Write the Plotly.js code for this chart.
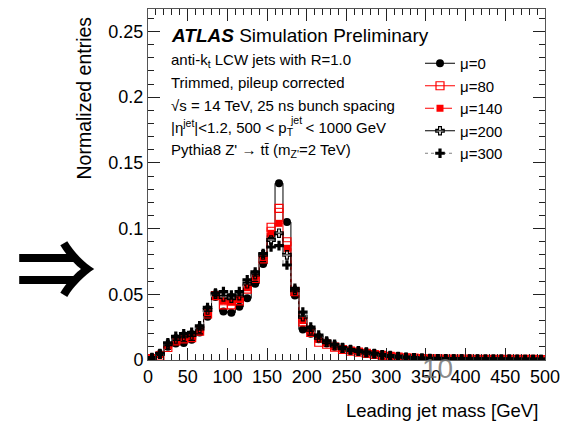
<!DOCTYPE html>
<html>
<head>
<meta charset="utf-8">
<script src="https://cdn.plot.ly/plotly-3.0.1.min.js"></script>
<style>
  html, body { margin: 0; padding: 0; background: #fff; }
  #chart { width: 562px; height: 421px; }
</style>
</head>
<body>
<div id="chart"></div>
<script>
// Leading jet mass bins: 10 GeV wide, centres in GeV
const massBins = [5, 15, 25, 35, 45, 55, 65, 75, 85, 95,
  105, 115, 125, 135, 145, 155, 165, 175, 185, 195,
  205, 215, 225, 235, 245, 255, 265, 275, 285, 295,
  305, 315, 325, 335, 345, 355, 365, 375, 385, 395,
  405, 415, 425, 435, 445, 455, 465, 475, 485, 495];

// Normalized entries per pileup condition
const mu0 = [0.0013, 0.0045, 0.0100, 0.0125, 0.0130, 0.0155, 0.0210, 0.0330, 0.0480, 0.0370,
  0.0360, 0.0405, 0.0470, 0.0580, 0.0730, 0.0950, 0.1345, 0.1050, 0.0490, 0.0233,
  0.0200, 0.0157, 0.0125, 0.0100, 0.0082, 0.0070, 0.0062, 0.0050, 0.0043, 0.0035,
  0.0028, 0.0022, 0.0017, 0.0014, 0.0010, 0.0009, 0.0008, 0.0007, 0.0007, 0.0006,
  0.0006, 0.0005, 0.0005, 0.0005, 0.0004, 0.0004, 0.0004, 0.0004, 0.0003, 0.0003];
const mu80 = [0.0010, 0.0030, 0.0095, 0.0145, 0.0160, 0.0170, 0.0220, 0.0350, 0.0490, 0.0420,
  0.0420, 0.0450, 0.0540, 0.0620, 0.0770, 0.1010, 0.1154, 0.0900, 0.0520, 0.0290,
  0.0210, 0.0135, 0.0120, 0.0098, 0.0080, 0.0068, 0.0060, 0.0050, 0.0042, 0.0035,
  0.0028, 0.0022, 0.0017, 0.0014, 0.0010, 0.0009, 0.0008, 0.0007, 0.0007, 0.0006,
  0.0006, 0.0005, 0.0005, 0.0005, 0.0004, 0.0004, 0.0004, 0.0004, 0.0004, 0.0003];
const mu140 = [0.0012, 0.0040, 0.0110, 0.0150, 0.0170, 0.0180, 0.0230, 0.0360, 0.0490, 0.0450,
  0.0440, 0.0460, 0.0550, 0.0630, 0.0780, 0.0964, 0.1040, 0.0850, 0.0520, 0.0300,
  0.0220, 0.0160, 0.0130, 0.0105, 0.0085, 0.0072, 0.0064, 0.0053, 0.0045, 0.0037,
  0.0030, 0.0024, 0.0018, 0.0015, 0.0011, 0.0010, 0.0009, 0.0008, 0.0007, 0.0007,
  0.0006, 0.0006, 0.0005, 0.0005, 0.0005, 0.0004, 0.0004, 0.0004, 0.0004, 0.0003];
const mu200 = [0.0015, 0.0045, 0.0120, 0.0160, 0.0180, 0.0190, 0.0240, 0.0380, 0.0500, 0.0480,
  0.0470, 0.0490, 0.0580, 0.0650, 0.0800, 0.0913, 0.0965, 0.0800, 0.0530, 0.0330,
  0.0230, 0.0170, 0.0135, 0.0110, 0.0090, 0.0076, 0.0067, 0.0056, 0.0047, 0.0038,
  0.0031, 0.0025, 0.0019, 0.0016, 0.0012, 0.0010, 0.0009, 0.0008, 0.0008, 0.0007,
  0.0006, 0.0006, 0.0006, 0.0005, 0.0005, 0.0005, 0.0004, 0.0004, 0.0004, 0.0004];
const mu300 = [0.0018, 0.0050, 0.0130, 0.0180, 0.0200, 0.0210, 0.0260, 0.0400, 0.0510, 0.0520,
  0.0495, 0.0520, 0.0610, 0.0670, 0.0810, 0.0860, 0.0870, 0.0723, 0.0545, 0.0365,
  0.0250, 0.0190, 0.0145, 0.0120, 0.0095, 0.0080, 0.0070, 0.0060, 0.0050, 0.0040,
  0.0033, 0.0027, 0.0021, 0.0017, 0.0013, 0.0011, 0.0010, 0.0009, 0.0008, 0.0008,
  0.0007, 0.0007, 0.0006, 0.0006, 0.0005, 0.0005, 0.0005, 0.0004, 0.0004, 0.0004];

const seriesNames = ['\u03bc=0', '\u03bc=80', '\u03bc=140', '\u03bc=200', '\u03bc=300'];
const xTickVals = [0, 50, 100, 150, 200, 250, 300, 350, 400, 450, 500];

const FONT = 'Liberation Sans, Arial, Helvetica, sans-serif';

// One histogram: step outline through the bin contents plus a marker per bin
function histTrace(name, y, lineColor, dash, symbol, markerColor, size, open) {
  return {
    type: 'scatter',
    mode: 'lines+markers',
    name: name,
    x: massBins,
    y: y,
    line: { shape: 'hvh', color: lineColor, width: 1, dash: dash },
    marker: {
      symbol: symbol,
      size: size,
      color: markerColor,
      line: { color: markerColor, width: open ? 1.2 : 0 }
    },
    cliponaxis: true
  };
}

const traces = [
  histTrace(seriesNames[0], mu0, '#000000', 'solid', 'circle', '#000000', 8, false),
  histTrace(seriesNames[1], mu80, '#ff0000', 'solid', 'square-open', '#ff0000', 8, true),
  histTrace(seriesNames[2], mu140, '#ff0000', 'dash', 'square', '#ff0000', 7, false),
  histTrace(seriesNames[3], mu200, '#000000', 'solid', 'cross-open', '#000000', 7, true),
  histTrace(seriesNames[4], mu300, '#808080', 'dot', 'cross', '#000000', 8, false)
];

// Pixel helpers for text placement (plot area 148..545 x 9..360)
const L = 148, R = 545, T = 9, B = 360;
const px = v => (v - L) / (R - L);
const py = v => (B - v) / (B - T);

const infoLines = [
  'anti-k<sub>t</sub> LCW jets with R=1.0',
  'Trimmed, pileup corrected',
  '\u221as = 14 TeV, 25 ns bunch spacing',
  '|\u03b7<sup>jet</sup>|<1.2, 500 < p<sub>T</sub>   < 1000 GeV',
  'Pythia8 Z\' \u2192 tt\u0304 (m<sub>Z\'</sub>=2 TeV)'
];
const infoY = [60, 82, 105, 127, 150];

const annotations = [
  {
    text: '<b><i>ATLAS</i></b> Simulation Preliminary',
    xref: 'paper', yref: 'paper', x: px(169), y: py(36),
    xanchor: 'left', yanchor: 'middle', showarrow: false,
    font: { family: FONT, size: 19, color: '#000' }
  },
  ...infoLines.map((t, i) => ({
    text: t, xref: 'paper', yref: 'paper', x: px(169), y: py(infoY[i]),
    xanchor: 'left', yanchor: 'middle', showarrow: false,
    font: { family: FONT, size: 15, color: '#000' }
  })),
  {
    // superscript of the stacked p_T^jet
    text: 'jet', xref: 'paper', yref: 'paper', x: px(288), y: py(120),
    xanchor: 'left', yanchor: 'middle', showarrow: false,
    font: { family: FONT, size: 10.5, color: '#000' }
  },
  {
    text: 'Leading jet mass [GeV]', xref: 'paper', yref: 'paper',
    x: px(540), y: py(410), xanchor: 'right', yanchor: 'middle', showarrow: false,
    font: { family: FONT, size: 18.5, color: '#000' }
  },
  {
    text: 'Normalized entries', xref: 'paper', yref: 'paper', textangle: -90,
    x: px(84), y: py(98.5), xanchor: 'center', yanchor: 'middle', showarrow: false,
    font: { family: FONT, size: 19.5, color: '#000' }
  },
  {
    text: '\u21d2', xref: 'paper', yref: 'paper',
    x: px(56), y: py(264), xanchor: 'center', yanchor: 'middle', showarrow: false,
    font: { family: 'Noto Sans CJK JP', size: 80, weight: 700, color: '#000' }
  },
  {
    text: '10', xref: 'paper', yref: 'paper',
    x: px(437), y: py(369), xanchor: 'center', yanchor: 'middle', showarrow: false,
    font: { family: FONT, size: 28, color: 'rgba(110,110,110,0.8)' }
  }
];

const axisCommon = {
  ticks: 'inside', ticklen: 12, tickwidth: 1, tickcolor: '#222',
  showline: true, linecolor: '#555', linewidth: 1, mirror: 'allticks',
  showgrid: false, zeroline: false,
  tickfont: { family: FONT, size: 18, color: '#000' }
};

const layout = {
  width: 562, height: 421,
  margin: { l: L, r: 562 - R, t: T, b: 421 - B, pad: 0 },
  paper_bgcolor: '#fff', plot_bgcolor: '#fff',
  showlegend: true,
  legend: {
    x: px(420), y: py(47), xanchor: 'left', yanchor: 'top',
    bgcolor: 'rgba(0,0,0,0)', borderwidth: 0,
    font: { family: FONT, size: 15, color: '#000' },
    traceorder: 'normal'
  },
  xaxis: Object.assign({}, axisCommon, {
    range: [0, 500], tickmode: 'array', tickvals: xTickVals,
    ticktext: xTickVals.map(String),
    minor: { dtick: 10, tick0: 0, ticks: 'inside', ticklen: 6, tickcolor: '#222' }
  }),
  yaxis: Object.assign({}, axisCommon, {
    range: [0, 0.2671], dtick: 0.05, tick0: 0,
    minor: { dtick: 0.01, tick0: 0, ticks: 'inside', ticklen: 6, tickcolor: '#222' }
  }),
  annotations: annotations
};

Plotly.newPlot('chart', traces, layout, { staticPlot: true, displayModeBar: false });
</script>
</body>
</html>
